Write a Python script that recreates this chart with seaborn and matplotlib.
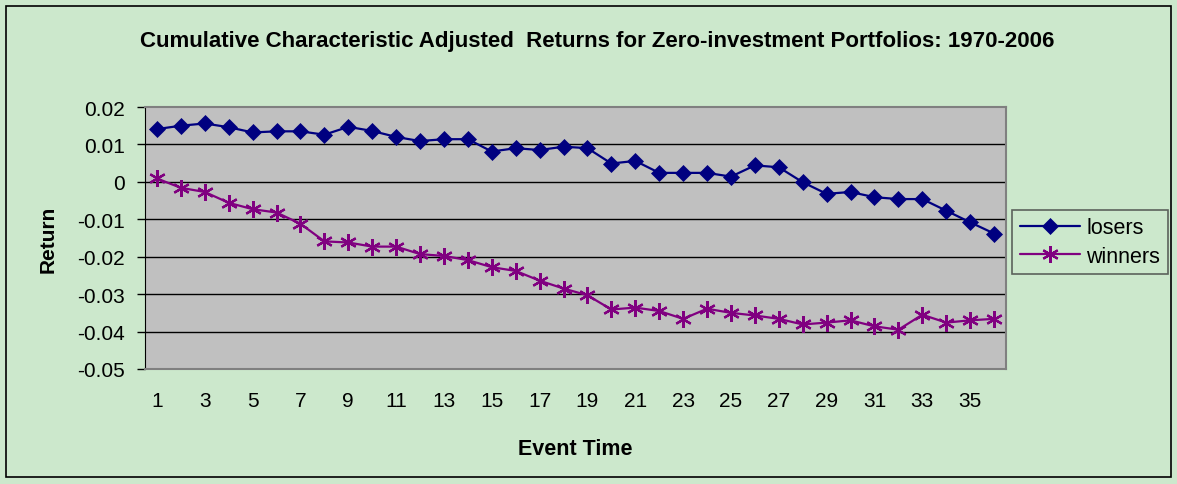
import matplotlib.pyplot as plt
import numpy as np
import pandas as pd
import seaborn as sns

event_time = list(range(1, 37))
losers = [0.0141, 0.0150, 0.0156, 0.0146, 0.0132, 0.0135, 0.0135, 0.0126, 0.0147, 0.0136,
          0.0120, 0.0109, 0.0114, 0.0114, 0.0081, 0.0090, 0.0085, 0.0094, 0.0090, 0.0049,
          0.0056, 0.0024, 0.0024, 0.0024, 0.0014, 0.0044, 0.0039, -0.0001, -0.0032, -0.0027,
          -0.0041, -0.0046, -0.0046, -0.0077, -0.0108, -0.0138]
winners = [0.0009, -0.0016, -0.0027, -0.0056, -0.0073, -0.0082, -0.0112, -0.0159, -0.0162, -0.0173,
           -0.0173, -0.0193, -0.0198, -0.0209, -0.0228, -0.0238, -0.0264, -0.0285, -0.0303, -0.0341,
           -0.0336, -0.0345, -0.0366, -0.0339, -0.0350, -0.0357, -0.0366, -0.0381, -0.0376, -0.0370,
           -0.0386, -0.0395, -0.0355, -0.0376, -0.0370, -0.0366]
y_ticks = [0.02, 0.01, 0, -0.01, -0.02, -0.03, -0.04, -0.05]
x_tick_labels = list(range(1, 37, 2))

df = pd.DataFrame({
    "Event Time": event_time * 2,
    "Return": losers + winners,
    "series": ["losers"] * 36 + ["winners"] * 36,
})

sns.set_style("white")
plt.rcParams["font.family"] = ["Liberation Sans", "DejaVu Sans"]
plt.rcParams["text.color"] = "black"
plt.rcParams["axes.labelcolor"] = "black"
plt.rcParams["xtick.color"] = "black"
plt.rcParams["ytick.color"] = "black"

bg = "#CCE8CC"
fig = plt.figure(figsize=(11.77, 4.85), dpi=100, facecolor=bg)
# outer chart border
fig.patches.append(plt.Rectangle((6 / 1177, 7 / 485), 1165 / 1177, 471 / 485, transform=fig.transFigure,
                                 fill=False, edgecolor="black", linewidth=1.2))
ax = fig.add_axes([145 / 1177, 1 - 370 / 485, 861 / 1177, 262 / 485])
ax.set_facecolor("#C0C0C0")

palette = {"losers": "#000080", "winners": "#800080"}
markers = {"losers": "D", "winners": (6, 2, 0)}
for name, grp in df.groupby("series"):
    sns.lineplot(data=grp, x="Event Time", y="Return", ax=ax, color=palette[name],
                 marker=markers[name], markersize=8 if name == "losers" else 12,
                 markeredgecolor=palette[name], markeredgewidth=1.6 if name == "winners" else 0.5,
                 linewidth=1.6, label=name)

ax.set_xlim(0.5, 36.5)
ax.set_ylim(-0.05, 0.02)
ax.set_yticks(y_ticks)
ax.set_yticklabels([f"{t:g}" for t in y_ticks], fontsize=15)
ax.set_xticks(x_tick_labels)
ax.set_xticklabels([str(t) for t in x_tick_labels], fontsize=15)
ax.tick_params(axis="y", length=6, width=1, color="black", direction="out", pad=8.5, left=True)
ax.tick_params(axis="x", length=0, pad=16)
for t in y_ticks[1:-1]:
    ax.axhline(t, color="black", linewidth=1, zorder=0.5)
for side in ["top", "right", "bottom"]:
    ax.spines[side].set_color("#808080")
    ax.spines[side].set_linewidth(1.5)
ax.spines["left"].set_color("black")

ax.set_xlabel("Event Time", fontsize=15.5, fontweight="bold", labelpad=20)
ax.set_ylabel("Return", fontsize=15, fontweight="bold", labelpad=14)
fig.text(597 / 1177, 1 - 41 / 485, "Cumulative Characteristic Adjusted  Returns for Zero-investment Portfolios: 1970-2006",
         ha="center", va="center", fontsize=16, fontweight="bold")

leg = ax.legend(loc="center left", bbox_to_anchor=(1.007, 0.485), fontsize=15.5, frameon=True,
                fancybox=False, edgecolor="#404040", facecolor=bg, handlelength=2.8,
                borderpad=0.35, labelspacing=0.35, handletextpad=0.3, borderaxespad=0)
leg.get_frame().set_linewidth(1.2)

fig.savefig("out.png", dpi=100, facecolor=bg)
